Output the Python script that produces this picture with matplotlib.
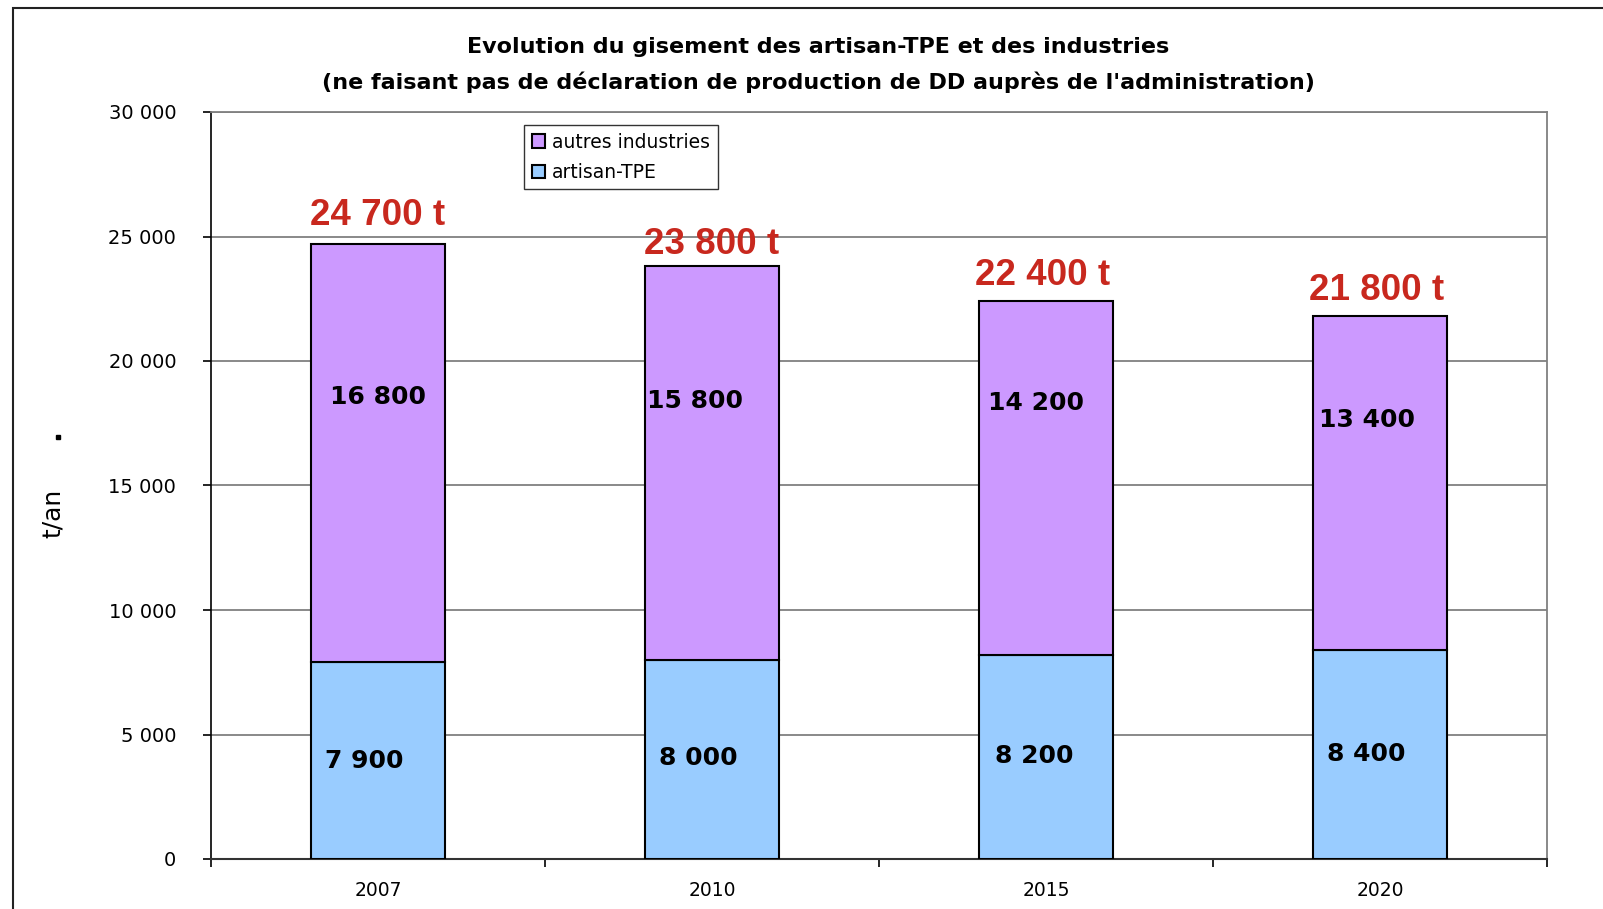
import numpy as np
import matplotlib
matplotlib.use("Agg")
import matplotlib.pyplot as plt
from matplotlib.patches import Rectangle

################
# DATA
################
years = ["2007", "2010", "2015", "2020"]
artisan_tpe = [7900, 8000, 8200, 8400]
autres_industries = [16800, 15800, 14200, 13400]
totals = [24700, 23800, 22400, 21800]
series_labels = ["autres industries", "artisan-TPE"]

# manual label anchors (x offset in category units, y in t/an), as in the original chart
artisan_label_pos = [(-0.04, 3950), (-0.04, 4050), (-0.035, 4130), (-0.04, 4210)]
autres_label_pos = [(0.0, 18550), (-0.05, 18400), (-0.03, 18310), (-0.04, 17630)]
total_label_pos = [(0.0, 25850), (0.0, 24660), (-0.01, 23450), (-0.01, 22850)]

blue = "#99CCFF"
purple = "#CC99FF"
red = "#C8281E"


def fmt(v):
    # thousands separated by a space, French style
    return "{:,}".format(v).replace(",", " ")


fig = plt.figure(figsize=(16.03, 9.09), dpi=100)
ax = fig.add_axes([211 / 1603, 1 - 859 / 909, (1547 - 211) / 1603, (859 - 112) / 909])

x = np.arange(len(years))
w = 0.4
ax.bar(x, artisan_tpe, w, color=blue, edgecolor="black", linewidth=1.5,
       label=series_labels[1], zorder=3)
ax.bar(x, autres_industries, w, bottom=artisan_tpe, color=purple, edgecolor="black",
       linewidth=1.5, label=series_labels[0], zorder=3)

# value labels
for i in range(len(years)):
    dx, y = artisan_label_pos[i]
    ax.text(i + dx, y, fmt(artisan_tpe[i]), ha="center", va="center",
            fontsize=18, fontweight="bold", color="black", zorder=4)
    dx, y = autres_label_pos[i]
    ax.text(i + dx, y, fmt(autres_industries[i]), ha="center", va="center",
            fontsize=18, fontweight="bold", color="black", zorder=4)
    dx, y = total_label_pos[i]
    ax.text(i + dx, y, fmt(totals[i]) + " t", ha="center", va="center",
            fontsize=26.5, fontweight="bold", color=red, family="Liberation Sans", zorder=4)

# axes styling
ax.set_xlim(-0.5, len(years) - 0.5)
ax.set_ylim(0, 30000)
ax.set_yticks(np.arange(0, 30001, 5000))
ax.set_yticklabels([fmt(v) for v in range(0, 30001, 5000)], fontsize=14)
ax.yaxis.grid(True, color="#808080", linewidth=1.3, zorder=0)
ax.tick_params(axis="y", direction="out", length=6, width=1.2, pad=19)

ax.set_xticks(x)
ax.set_xticklabels(years, fontsize=13.5)
ax.set_xticks(np.arange(-0.5, len(years)), minor=True)
ax.tick_params(axis="x", which="major", length=0, pad=16)
ax.tick_params(axis="x", which="minor", direction="out", length=6, width=1.2)

for s in ["top", "right"]:
    ax.spines[s].set_color("#808080")
    ax.spines[s].set_linewidth(1.3)
ax.spines["left"].set_color("black")
ax.spines["left"].set_linewidth(1.2)
ax.spines["bottom"].set_color("#333333")
ax.spines["bottom"].set_linewidth(1.5)

# legend
handles, labels = ax.get_legend_handles_labels()
leg = ax.legend(handles[::-1], labels[::-1], loc="upper left",
                bbox_to_anchor=((524 - 211) / 1336, 1 - (125 - 112) / 747),
                fontsize=13.5, frameon=True, fancybox=False, edgecolor="black",
                handlelength=0.7, handleheight=0.7, handletextpad=0.4,
                borderpad=0.4, labelspacing=0.6, borderaxespad=0)
leg.get_frame().set_linewidth(1.0)

# title and y label
fig.text(818 / 1603, 1 - 47 / 909, "Evolution du gisement des artisan-TPE et des industries",
         ha="center", va="center", fontsize=16, fontweight="bold")
fig.text(818 / 1603, 1 - 82 / 909,
         "(ne faisant pas de déclaration de production de DD auprès de l'administration)",
         ha="center", va="center", fontsize=16, fontweight="bold")
fig.text(53 / 1603, 1 - 513 / 909, "t/an", rotation=90, ha="center", va="center", fontsize=18)
fig.patches.append(Rectangle((56 / 1603, 1 - 439 / 909), 4 / 1603, 4 / 909,
                             transform=fig.transFigure, color="black"))

# outer frame of the chart area
fig.patches.append(Rectangle((13 / 1603, -0.1), 1.2, 1 - 8 / 909 + 0.1,
                             transform=fig.transFigure, fill=False,
                             edgecolor="#222222", linewidth=1.5))

fig.savefig("out.png", dpi=100)
